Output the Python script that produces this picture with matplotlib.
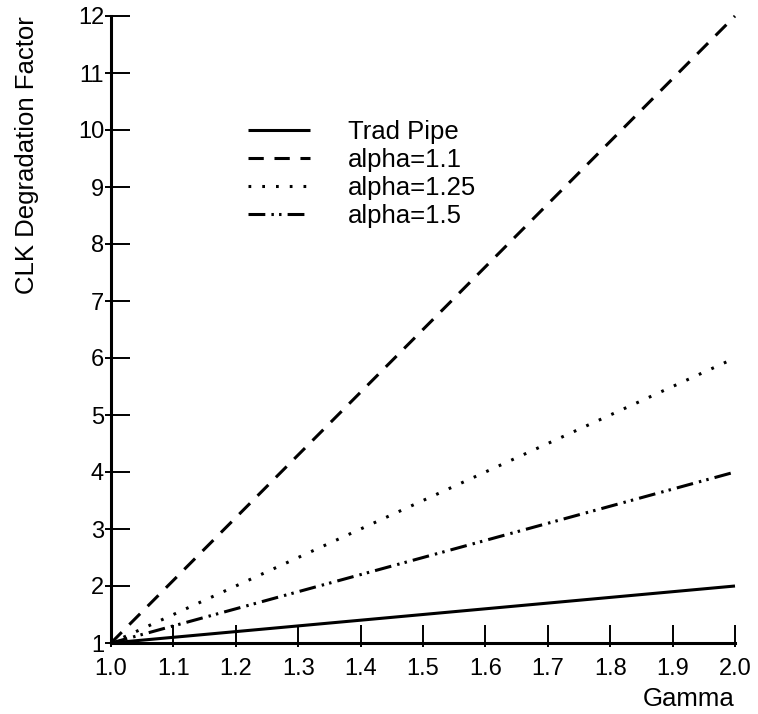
import matplotlib
matplotlib.use("Agg")
import matplotlib.pyplot as plt

# Data (straight lines, endpoints)
gamma = [1.0, 2.0]
trad_pipe = [1.0, 2.0]
alpha_1_1 = [1.0, 12.0]
alpha_1_25 = [1.0, 6.0]
alpha_1_5 = [1.0, 4.0]
series_labels = ["Trad Pipe", "alpha=1.1", "alpha=1.25", "alpha=1.5"]
x_ticks = [1.0, 1.1, 1.2, 1.3, 1.4, 1.5, 1.6, 1.7, 1.8, 1.9, 2.0]
y_ticks = [1, 2, 3, 4, 5, 6, 7, 8, 9, 10, 11, 12]

plt.rcParams['font.family'] = ['Liberation Sans', 'DejaVu Sans']

fig = plt.figure(figsize=(7.58, 7.14), dpi=100)
ax = fig.add_axes([111/758, 1 - 643/714, (735 - 111)/758, (643 - 16)/714])

lw = 2.2
styles = ['-', (0, (5, 3.5)), (0, (0.9, 3.6)), (0, (5.5, 2, 0.8, 1.7, 0.8, 2))]
series = [trad_pipe, alpha_1_1, alpha_1_25, alpha_1_5]
for vals, ls, lab in zip(series, styles, series_labels):
    ax.plot(gamma, vals, color='black', lw=lw, linestyle=ls, label=lab,
            clip_on=False, solid_capstyle='butt', dash_capstyle='butt')

ax.set_xlim(1.0, 2.0)
ax.set_ylim(1, 12)
ax.set_xticks(x_ticks)
ax.set_xticklabels([f"{v:.1f}" for v in x_ticks])
ax.set_yticks(y_ticks)
ax.set_yticklabels([str(v) for v in y_ticks])
# outward stubs via minor ticks at same locations
ax.xaxis.remove_overlapping_locs = False
ax.yaxis.remove_overlapping_locs = False
ax.set_xticks(x_ticks, minor=True)
ax.set_yticks(y_ticks, minor=True)

ax.tick_params(axis='x', which='major', direction='in', length=13, width=1.4,
               labelsize=17, pad=10.5)
ax.tick_params(axis='x', which='minor', direction='out', length=3, width=1.4)
ax.tick_params(axis='y', which='major', direction='in', length=13.7, width=1.4,
               labelsize=17, pad=5)
ax.tick_params(axis='y', which='minor', direction='out', length=4.3, width=1.4)

for s in ['top', 'right']:
    ax.spines[s].set_visible(False)
for s in ['left', 'bottom']:
    ax.spines[s].set_linewidth(2.2)

ax.set_xlabel("Gamma", fontsize=18.5, loc='right', labelpad=5)
ax.set_ylabel("CLK Degradation Factor", fontsize=18.5, loc='top', labelpad=28)

ax.legend(loc='upper left', bbox_to_anchor=(248/758, 1 - 120/714),
          bbox_transform=fig.transFigure, frameon=False, fontsize=18.5,
          handlelength=2.4, handletextpad=1.5, labelspacing=0.15,
          borderpad=0, borderaxespad=0)

fig.savefig("out.png", dpi=100)
